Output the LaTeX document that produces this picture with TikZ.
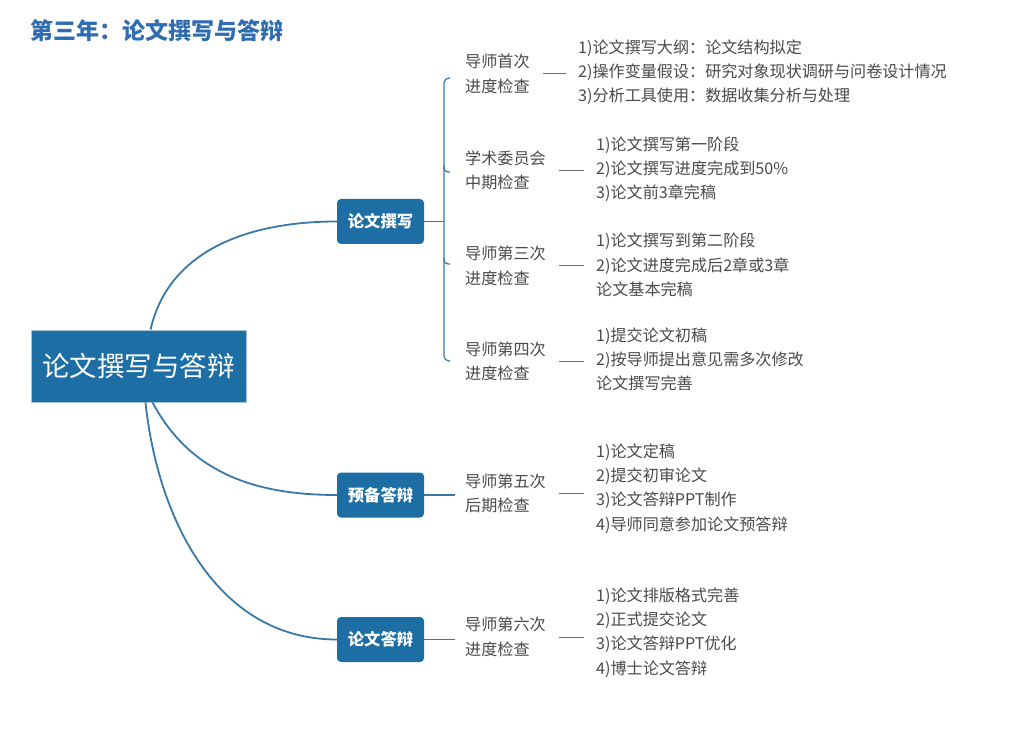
\documentclass[tikz,border=0pt]{standalone}
\usepackage{fontspec}
\setmainfont{Noto Sans CJK SC}
\definecolor{boxblue}{HTML}{1C6EA4}
\definecolor{lineblue}{HTML}{3A78A8}
\definecolor{titleblue}{HTML}{2F6DB0}
\definecolor{txtgray}{HTML}{4A4A4A}
\definecolor{dashgray}{HTML}{707070}
\begin{document}
\begin{tikzpicture}[x=1pt,y=-1pt,
  rootbox/.style={fill=boxblue,draw=boxblue!40,line width=0.8pt,text=white,minimum width=215pt,minimum height=72pt,inner sep=0pt,font=\fontsize{27.5}{30}\selectfont},
  branchbox/.style={fill=boxblue,rounded corners=4pt,text=white,minimum width=87pt,minimum height=45pt,inner sep=0pt,font=\bfseries\fontsize{16.3}{18}\selectfont},
  subnode/.style={anchor=west,align=left,inner sep=0pt,text=txtgray,font=\fontsize{16.1}{24.5}\selectfont},
  detnode/.style={anchor=west,align=left,inner sep=0pt,text=txtgray,font=\fontsize{16.1}{24.2}\selectfont},
  curveline/.style={draw=lineblue,line width=1.8pt},
  treeline/.style={draw=lineblue,line width=1.2pt},
  dashline/.style={draw=dashgray,line width=1pt,shorten <=13pt,shorten >=12pt}]
\useasboundingbox (0,0) rectangle (1029,738);
\fill[white] (0,0) rectangle (1029,738);

\node[anchor=west,inner sep=0pt,text=titleblue,font=\bfseries\fontsize{23}{26}\selectfont] (title) at (30,30.5) {第三年：论文撰写与答辩};

\node[rootbox] (root) at (138.5,366) {论文撰写与答辩};

\node[branchbox] (b1) at (380.5,221.5) {论文撰写};
\node[branchbox] (b2) at (380.5,495) {预备答辩};
\node[branchbox] (b3) at (380.5,639.5) {论文答辩};

\draw[curveline] ([xshift=12pt]root.north) to[out=77,in=180] (b1.west);
\draw[curveline] ([xshift=14pt]root.south) to[out=-62,in=180] (b2.west);
\draw[curveline] ([xshift=7pt]root.south) to[out=-84,in=180] (b3.west);

% sub nodes
\node[subnode] (s1) at (465,74) {导师首次\\进度检查};
\node[subnode] (s2) at (465,170.5) {学术委员会\\中期检查};
\node[subnode] (s3) at (465,266) {导师第三次\\进度检查};
\node[subnode] (s4) at (465,361.5) {导师第四次\\进度检查};
\node[subnode] (s5) at (465,493.5) {导师第五次\\后期检查};
\node[subnode] (s6) at (465,637) {导师第六次\\进度检查};

% bracket
\coordinate (bx) at (444,221.5);
\coordinate (t1) at (450,78);
\coordinate (t2) at (450,172);
\coordinate (t3) at (450,264);
\coordinate (t4) at (450,361);
\draw[treeline] (b1.east) -- (bx);
\draw[treeline,rounded corners=5pt] (t1) -| (bx) |- (t4);
\draw[treeline,rounded corners=4pt] (bx |- 0,166) |- (t2);
\draw[treeline,rounded corners=4pt] (bx |- 0,258) |- (t3);
\draw[treeline,shorten >=10pt] (b2.east) -- (b2.east -| s5.west);
\draw[treeline,shorten >=10pt] (b3.east) -- (b3.east -| s6.west);

% details
\node[detnode] (d1) at (578,72.5) {1)论文撰写大纲：论文结构拟定\\2)操作变量假设：研究对象现状调研与问卷设计情况\\3)分析工具使用：数据收集分析与处理};
\node[detnode] (d2) at (596,169) {1)论文撰写第一阶段\\2)论文撰写进度完成到50\%\\3)论文前3章完稿};
\node[detnode] (d3) at (596,265) {1)论文撰写到第二阶段\\2)论文进度完成后2章或3章\\论文基本完稿};
\node[detnode] (d4) at (596,359.5) {1)提交论文初稿\\2)按导师提出意见需多次修改\\论文撰写完善};
\node[detnode] (d5) at (596,488.5) {1)论文定稿\\2)提交初审论文\\3)论文答辩PPT制作\\4)导师同意参加论文预答辩};
\node[detnode] (d6) at (596,632.5) {1)论文排版格式完善\\2)正式提交论文\\3)论文答辩PPT优化\\4)博士论文答辩};

\draw[dashline] (s1.east) -- (s1.east -| d1.west);
\draw[dashline] (s2.east) -- (s2.east -| d2.west);
\draw[dashline] (s3.east) -- (s3.east -| d3.west);
\draw[dashline] (s4.east) -- (s4.east -| d4.west);
\draw[dashline] (s5.east) -- (s5.east -| d5.west);
\draw[dashline] (s6.east) -- (s6.east -| d6.west);
\end{tikzpicture}
\end{document}
